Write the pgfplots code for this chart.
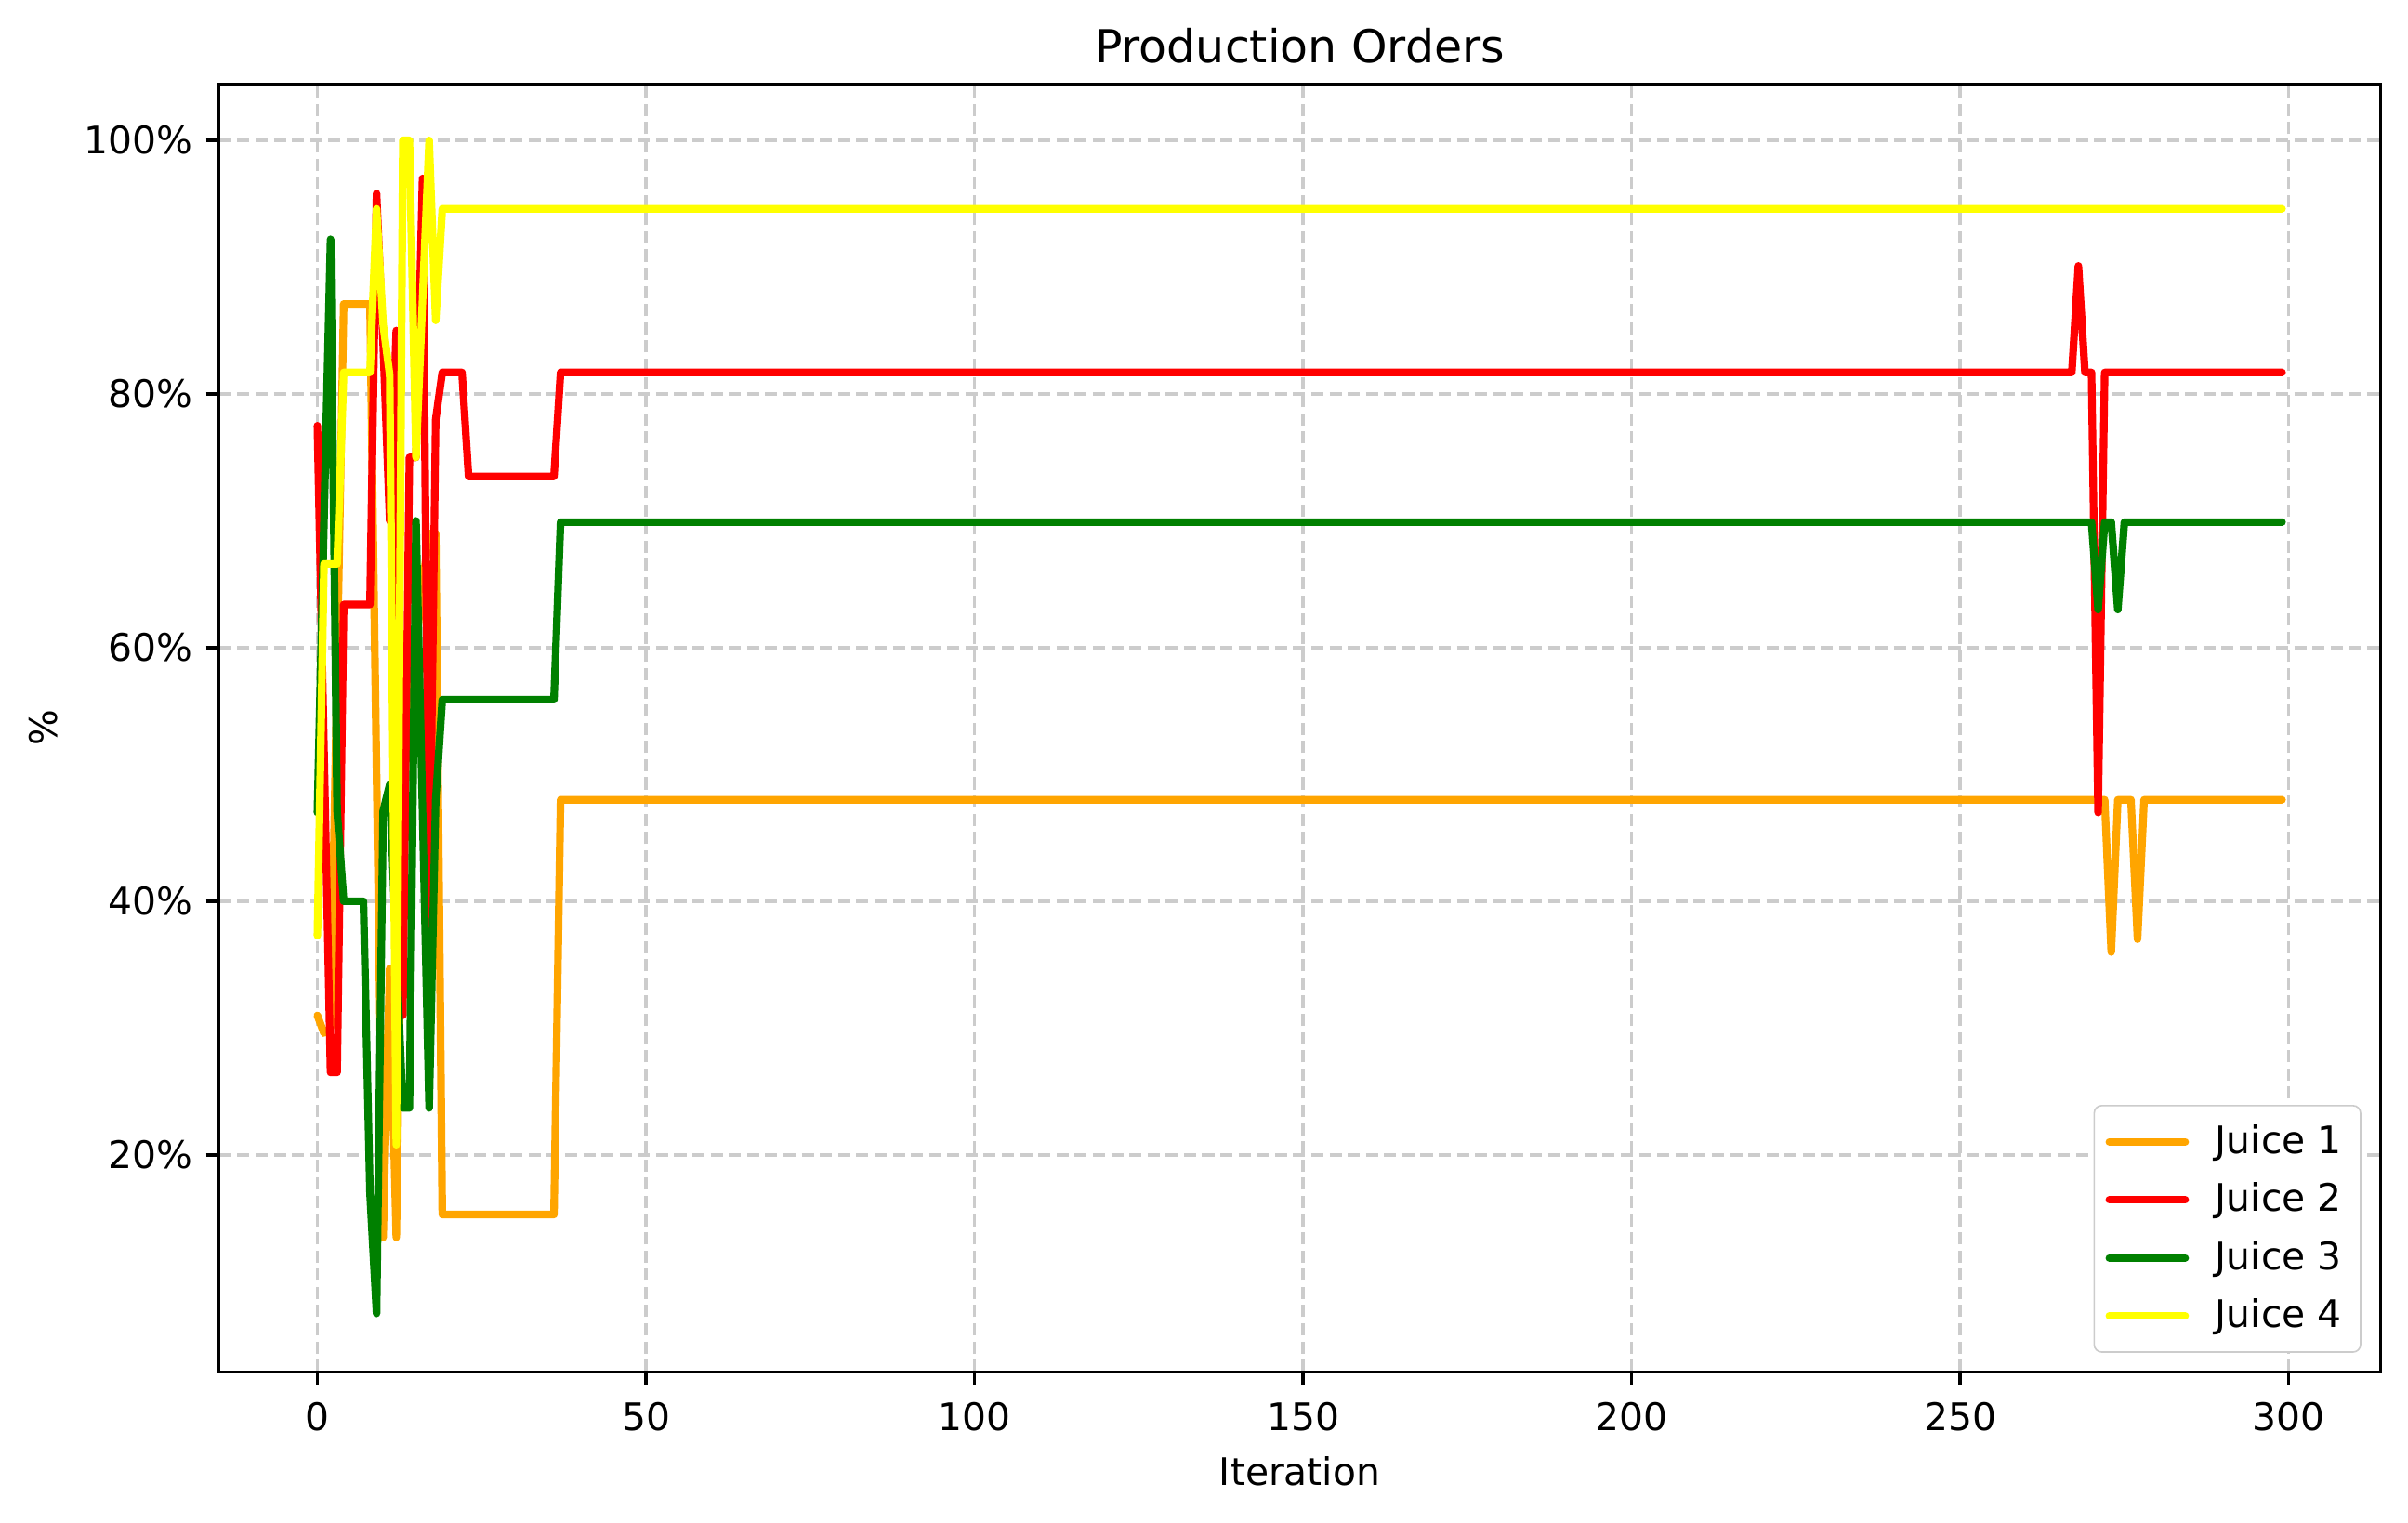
\documentclass[border=0pt]{standalone}
\usepackage{fontspec}
\setmainfont{DejaVu Sans}
\usepackage{pgfplots}
\pgfplotsset{compat=1.18}
\definecolor{jorange}{HTML}{FFA500}
\definecolor{jred}{HTML}{FF0000}
\definecolor{jgreen}{HTML}{008000}
\definecolor{jyellow}{HTML}{FFFF00}
\definecolor{gridgray}{HTML}{CCCCCC}
\begin{document}
\begin{tikzpicture}
\useasboundingbox (0,0) rectangle (635pt,401.5pt);
\begin{axis}[
  at={(57.8pt,39.7pt)}, anchor=south west,
  scale only axis, width=569.9pt, height=339.5pt,
  xmin=-14.95, xmax=313.95, ymin=2.9, ymax=104.4,
  xtick={0,50,100,150,200,250,300},
  ytick={20,40,60,80,100},
  yticklabels={20\%,40\%,60\%,80\%,100\%},
  /pgf/number format/assume math mode=true,
  tick align=outside, tick pos=left,
  major tick length=3.5pt,
  every tick/.style={black, line width=0.8pt},
  axis line style={line width=0.8pt},
  ticklabel style={font=\fontsize{10}{12}\selectfont},
  xticklabel style={yshift=-1pt},
  grid=major,
  major grid style={gridgray, line width=0.8pt, dash pattern=on 3.2pt off 1.6pt},
  title={Production Orders},
  title style={font=\fontsize{12}{14.4}\selectfont, yshift=-4pt},
  xlabel={Iteration}, ylabel={\%},
  label style={font=\fontsize{10}{12}\selectfont},
  legend style={at={(1,0)}, anchor=south east, xshift=-5pt, yshift=5pt,
    draw=gridgray, rounded corners=2pt, font=\fontsize{10}{12}\selectfont,
    row sep=2.2pt, inner xsep=3pt, inner ysep=3pt,
    /tikz/every odd column/.append style={column sep=5pt}},
  legend cell align=left,
  legend image code/.code={\draw[#1] (0pt,0pt) -- (20pt,0pt);},
  every axis plot/.append style={line width=2pt, line join=round, line cap=round},
]
\addplot[jorange] coordinates {(0,31) (1,29.6) (2,30) (3,58.5) (4,87.1) (8,87.1) (9,50) (10,13.5) (11,34.7) (12,13.5) (13,48) (14,55) (15,60) (16,65) (17,69) (18,69) (19,15.3) (36,15.3) (37,48) (272,48) (273,36) (274,48) (276,48) (277,37) (278,48) (299,48)};
\addlegendentry{Juice 1}
\addplot[jred] coordinates {(0,77.5) (1,52) (2,26.5) (3,26.5) (4,63.4) (8,63.4) (9,95.8) (10,84) (11,70) (12,85) (13,31) (14,75) (15,75) (16,97) (17,38) (18,78) (19,81.7) (22,81.7) (23,73.5) (36,73.5) (37,81.7) (267,81.7) (268,90.1) (269,81.7) (270,81.7) (271,47) (272,81.7) (299,81.7)};
\addlegendentry{Juice 2}
\addplot[jgreen] coordinates {(0,47) (1,70) (2,92.2) (3,47.1) (4,40) (7,40) (8,17) (9,7.5) (10,47.1) (11,49.2) (12,36) (13,23.7) (14,23.7) (15,70) (16,47) (17,23.7) (18,48) (19,55.9) (36,55.9) (37,69.9) (270,69.9) (271,63) (272,69.9) (273,69.9) (274,63) (275,69.9) (299,69.9)};
\addlegendentry{Juice 3}
\addplot[jyellow] coordinates {(0,37.3) (1,66.6) (3,66.6) (4,81.7) (8,81.7) (9,94.6) (10,85.5) (11,81.5) (12,20.8) (13,100) (14,100) (15,75) (16,87.5) (17,100) (18,85.8) (19,94.6) (299,94.6)};
\addlegendentry{Juice 4}
\end{axis}
\end{tikzpicture}
\end{document}
